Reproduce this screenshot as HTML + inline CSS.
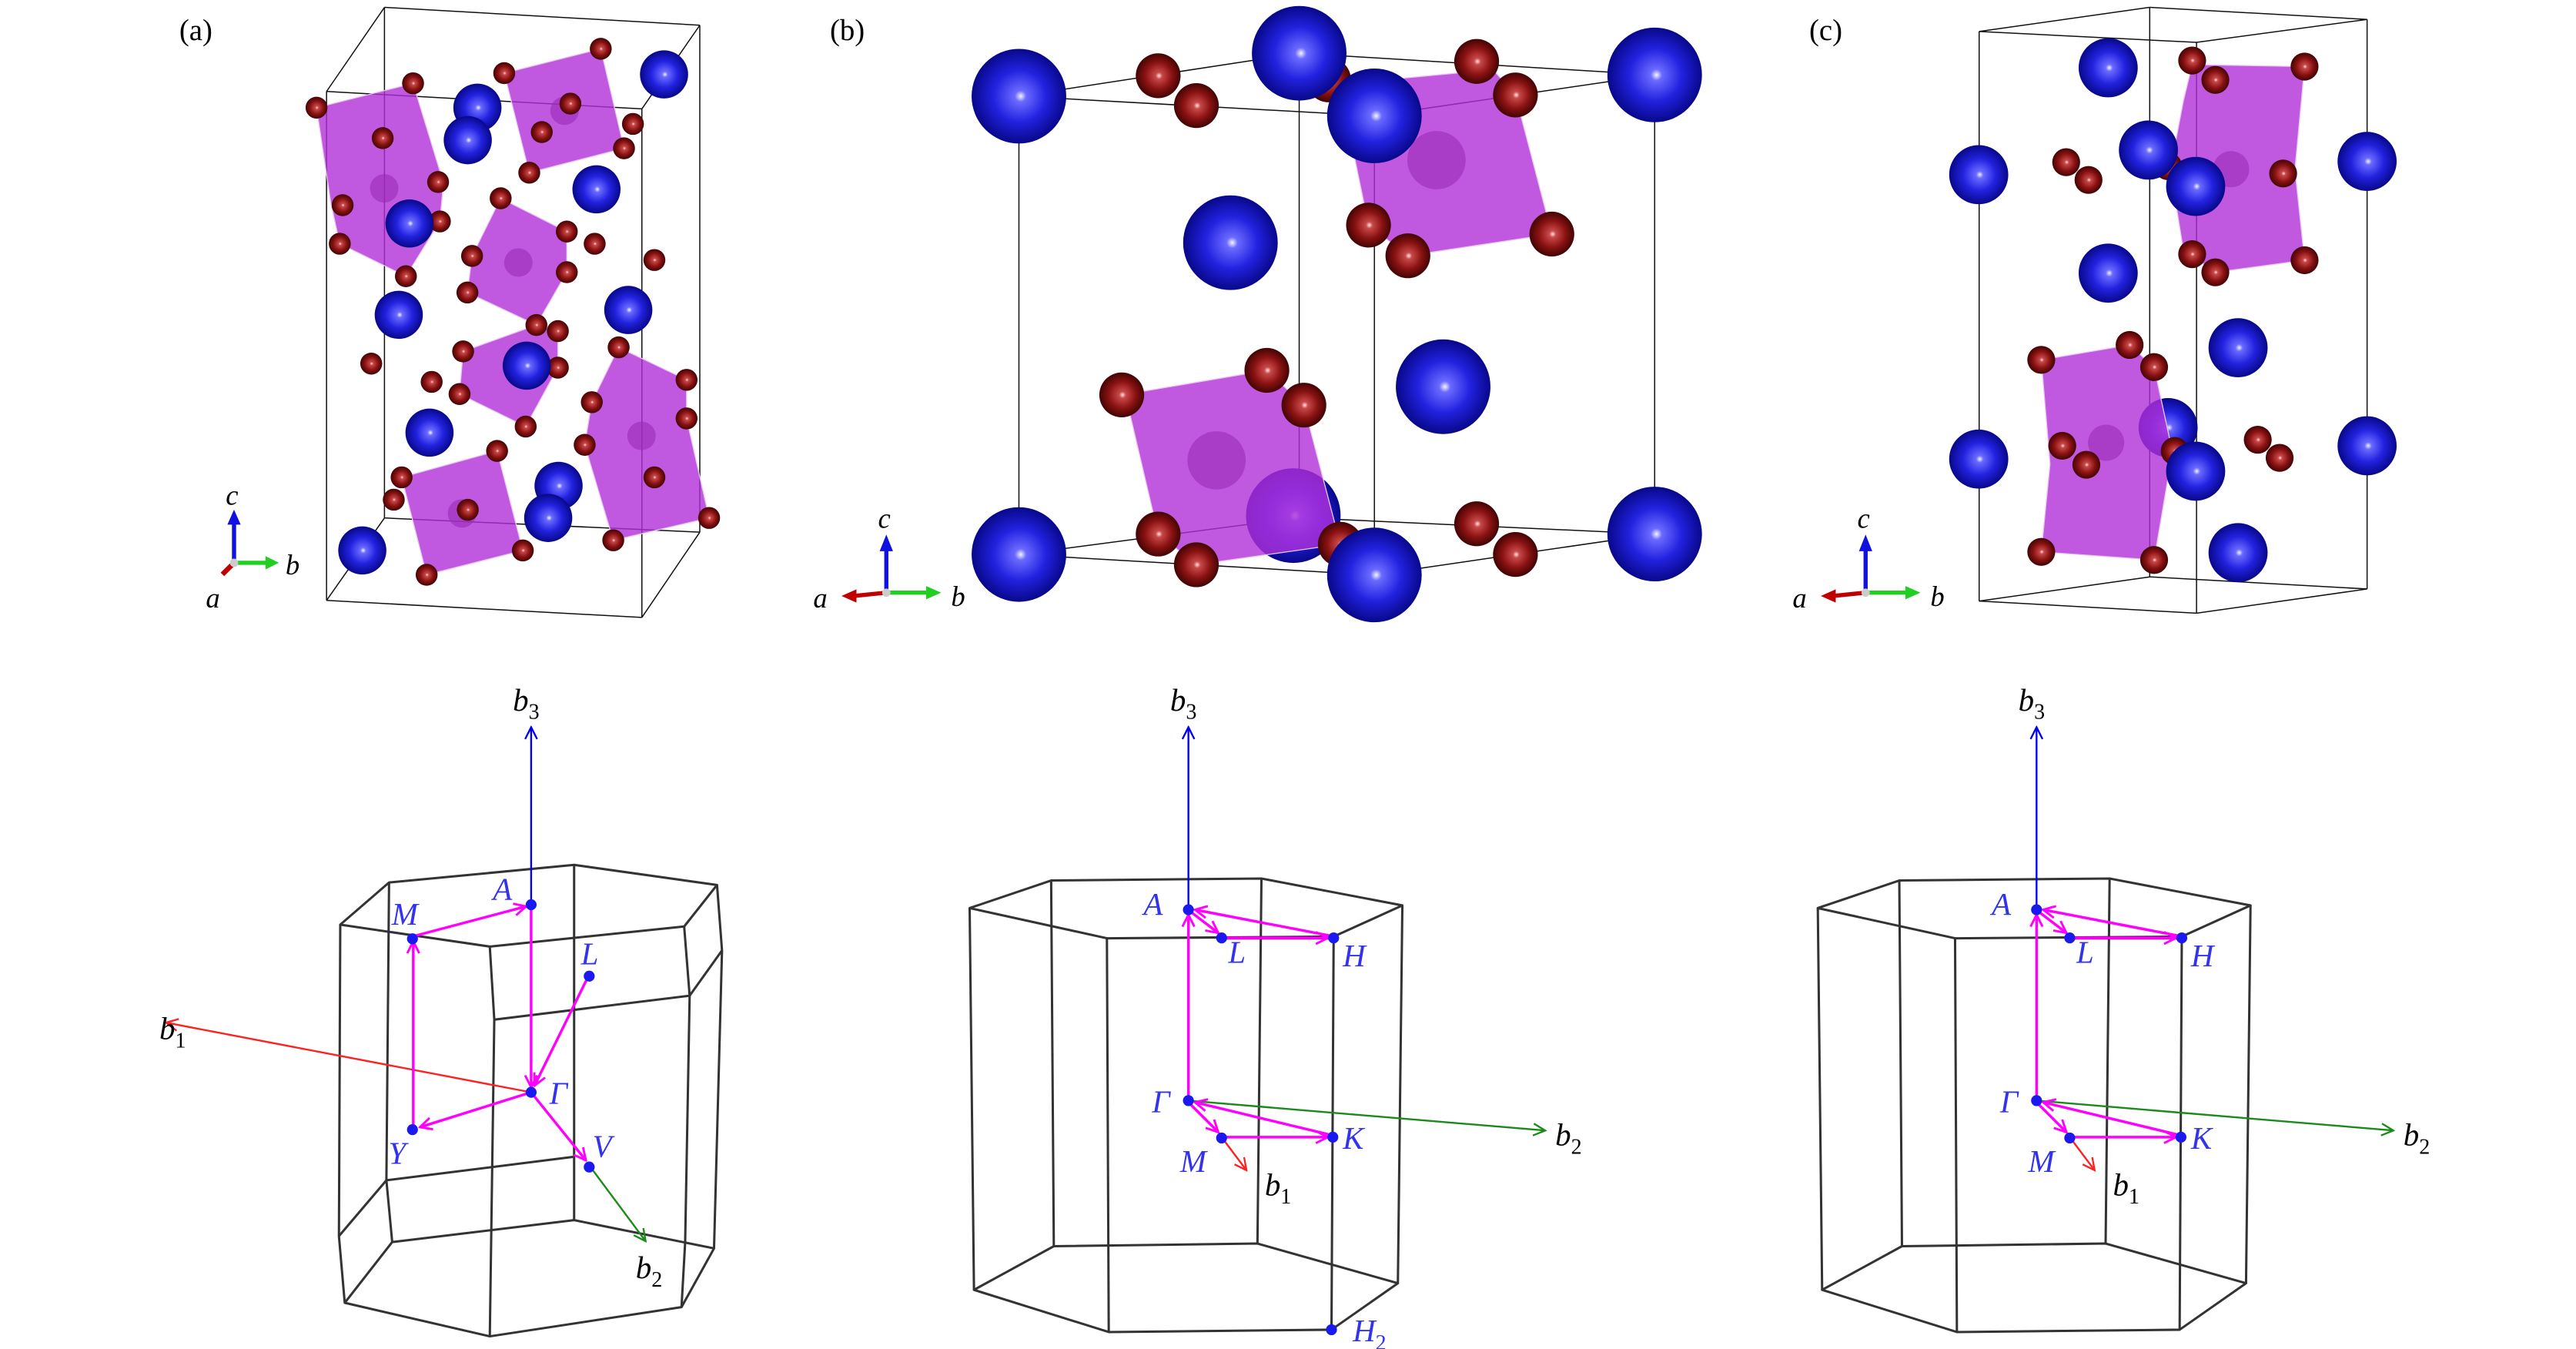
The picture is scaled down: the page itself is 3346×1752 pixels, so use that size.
<!DOCTYPE html>
<html><head><meta charset="utf-8"><style>
html,body{margin:0;padding:0;background:#fff;}
svg{display:block;}
text{font-family:"Liberation Serif",serif;}
</style></head><body>
<svg id="s" width="3346" height="1752" viewBox="0 0 1552 812.6" xmlns="http://www.w3.org/2000/svg">
<defs>
<radialGradient id="gb" cx="0.5" cy="0.5" r="0.5" fx="0.52" fy="0.5">
<stop offset="0" stop-color="#f4f4ff"/><stop offset="0.12" stop-color="#6a6aff"/><stop offset="0.55" stop-color="#2222e0"/><stop offset="1" stop-color="#08088a"/></radialGradient>
<radialGradient id="gr" cx="0.5" cy="0.5" r="0.5" fx="0.52" fy="0.5">
<stop offset="0" stop-color="#ffe0e0"/><stop offset="0.15" stop-color="#c84848"/><stop offset="0.6" stop-color="#8a1212"/><stop offset="1" stop-color="#420404"/></radialGradient>
<marker id="mm" viewBox="0 0 10 10" refX="9" refY="5" markerWidth="9" markerHeight="9" markerUnits="userSpaceOnUse" orient="auto"><path d="M1,1 L9,5 L1,9" fill="none" stroke="#ff00ff" stroke-width="1.5"/></marker>
<marker id="mb" viewBox="0 0 10 10" refX="9" refY="5" markerWidth="9" markerHeight="9" markerUnits="userSpaceOnUse" orient="auto"><path d="M1,1 L9,5 L1,9" fill="none" stroke="#0000ee" stroke-width="1.2"/></marker>
<marker id="mr" viewBox="0 0 10 10" refX="9" refY="5" markerWidth="9" markerHeight="9" markerUnits="userSpaceOnUse" orient="auto"><path d="M1,1 L9,5 L1,9" fill="none" stroke="#ff2020" stroke-width="1.2"/></marker>
<marker id="mg" viewBox="0 0 10 10" refX="9" refY="5" markerWidth="9" markerHeight="9" markerUnits="userSpaceOnUse" orient="auto"><path d="M1,1 L9,5 L1,9" fill="none" stroke="#1a8a1a" stroke-width="1.2"/></marker>
</defs>

<text x="108" y="24" font-size="18">(a)</text>
<text x="500" y="24" font-size="18">(b)</text>
<text x="1090" y="24" font-size="18">(c)</text>

<g id="top"></g>

<!-- axis indicators -->
<g stroke-width="2.5" fill="none">
<line x1="141" y1="339" x2="141" y2="314" stroke="#1010e0"/><polygon points="137,316 145,316 141,307" fill="#1010e0" stroke="none"/>
<line x1="141" y1="339" x2="162" y2="339" stroke="#20d020"/><polygon points="160,335 160,343 168,339" fill="#20d020" stroke="none"/>
<line x1="141" y1="339" x2="134" y2="346" stroke="#c00000" stroke-width="3"/>
<circle cx="141" cy="339" r="2.5" fill="#ccc" stroke="none"/>
</g>
<text x="136" y="304" font-size="17" font-style="italic">c</text>
<text x="172" y="346" font-size="17" font-style="italic">b</text>
<text x="124" y="366" font-size="17" font-style="italic">a</text>

<g id="ax2" stroke-width="2.5" fill="none">
<line x1="534" y1="357" x2="534" y2="330" stroke="#1010e0"/><polygon points="530,332 538,332 534,322" fill="#1010e0" stroke="none"/>
<line x1="534" y1="357" x2="560" y2="357" stroke="#20d020"/><polygon points="558,353 558,361 567,357" fill="#20d020" stroke="none"/>
<line x1="534" y1="357" x2="514" y2="359" stroke="#c00000"/><polygon points="516,355 516,363 507,359" fill="#c00000" stroke="none"/>
<circle cx="534" cy="357" r="2.5" fill="#ccc" stroke="none"/>
</g>
<text x="529" y="318" font-size="17" font-style="italic">c</text>
<text x="573" y="365" font-size="17" font-style="italic">b</text>
<text x="490" y="366" font-size="17" font-style="italic">a</text>
<g transform="translate(590,0)">
<use href="#ax2"/>
<text x="529" y="318" font-size="17" font-style="italic">c</text>
<text x="573" y="365" font-size="17" font-style="italic">b</text>
<text x="490" y="366" font-size="17" font-style="italic">a</text>
</g>

<!-- BZ (a) -->
<g fill="none" stroke="#333" stroke-width="1.4" stroke-linejoin="round">
<polygon points="234.4,531.6 345.9,521 432,533.1 412.2,558.1 295.1,570.2 205,557"/>
<polyline points="432,533.1 435,572.5 430.2,752"/>
<polyline points="435,572.5 415.5,599.8 297.8,614.2"/>
<polyline points="412.2,558.1 415.5,599.8 412.8,748.2 410.6,787.4"/>
<polyline points="295.1,570.2 297.8,614.2 295.1,805"/>
<polyline points="205,557 204.2,744.6 207.7,784.8 295.1,805 410.6,787.4 430.2,752 345.9,735 236.3,748.2 207.7,784.8"/>
<polyline points="234.4,531.6 232.8,711 236.3,748.2"/>
<polyline points="232.8,711 204.2,744.6"/>
<polyline points="232.8,711 345.2,696.9"/>
<polyline points="345.9,521 345.9,735"/>
</g>
<line x1="320" y1="544.7" x2="320" y2="438" stroke="#0000ee" stroke-width="1.1" marker-end="url(#mb)"/>
<line x1="320" y1="658" x2="100" y2="616" stroke="#ff2020" stroke-width="1.1" marker-end="url(#mr)"/>
<line x1="355" y1="702" x2="389" y2="747.7" stroke="#1a8a1a" stroke-width="1.1" marker-end="url(#mg)"/>
<g stroke="#ff00ff" stroke-width="1.6" fill="none">
<line x1="249" y1="564" x2="317" y2="546" marker-end="url(#mm)"/>
<line x1="249" y1="680" x2="249" y2="567" marker-end="url(#mm)"/>
<line x1="320" y1="545" x2="320" y2="655" marker-end="url(#mm)"/>
<line x1="355" y1="587" x2="322" y2="654" marker-end="url(#mm)"/>
<line x1="320" y1="658" x2="253" y2="679" marker-end="url(#mm)"/>
<line x1="320" y1="658" x2="353" y2="699" marker-end="url(#mm)"/>
</g>
<g fill="#1a1aee"><circle cx="320" cy="545" r="3.3"/><circle cx="248.5" cy="565.5" r="3.3"/><circle cx="355" cy="588" r="3.3"/><circle cx="320" cy="658" r="3.3"/><circle cx="248.5" cy="680.5" r="3.3"/><circle cx="355" cy="703" r="3.3"/></g>
<g fill="#3333ee" font-size="19" font-style="italic">
<text x="297" y="542">A</text><text x="236" y="557">M</text><text x="350" y="581">L</text><text x="331" y="665">Γ</text><text x="234" y="701">Y</text><text x="357" y="697">V</text>
</g>
<g font-size="19" font-style="italic">
<text x="309" y="428">b<tspan font-size="13" font-style="normal" dy="5">3</tspan></text>
<text x="96" y="626">b<tspan font-size="13" font-style="normal" dy="5">1</tspan></text>
<text x="383" y="770">b<tspan font-size="13" font-style="normal" dy="5">2</tspan></text>
</g>

<!-- BZ (b) -->
<g id="bzb">
<g fill="none" stroke="#333" stroke-width="1.4" stroke-linejoin="round">
<polygon points="584.2,547 633.3,530.4 760,529.2 844.9,545.4 803.5,564.2 666.9,565.2"/>
<polygon points="586.8,777 634.9,750.7 757.6,749.1 842.2,773 802.2,801 668,802.4"/>
<line x1="584.2" y1="547" x2="586.8" y2="777"/><line x1="633.3" y1="530.4" x2="634.9" y2="750.7"/>
<line x1="760" y1="529.2" x2="757.6" y2="749.1"/><line x1="844.9" y1="545.4" x2="842.2" y2="773"/>
<line x1="803.5" y1="564.2" x2="802.2" y2="801"/><line x1="666.9" y1="565.2" x2="668" y2="802.4"/>
</g>
<line x1="736" y1="565" x2="803" y2="565" stroke="#550044" stroke-width="2"/>
<line x1="716" y1="547" x2="716" y2="438" stroke="#0000ee" stroke-width="1.1" marker-end="url(#mb)"/>
<line x1="736" y1="685" x2="751" y2="705" stroke="#ff2020" stroke-width="1.1" marker-end="url(#mr)"/>
<line x1="716" y1="663" x2="931" y2="681" stroke="#1a8a1a" stroke-width="1.1" marker-end="url(#mg)"/>
<g stroke="#ff00ff" stroke-width="1.6" fill="none">
<line x1="716" y1="663" x2="716" y2="551" marker-end="url(#mm)"/>
<line x1="717" y1="549" x2="734" y2="562" marker-end="url(#mm)"/>
<line x1="736" y1="565" x2="800" y2="565" marker-end="url(#mm)"/>
<line x1="803" y1="564" x2="720" y2="548" marker-end="url(#mm)"/>
<line x1="717" y1="665" x2="734" y2="682" marker-end="url(#mm)"/>
<line x1="736" y1="685" x2="800" y2="685" marker-end="url(#mm)"/>
<line x1="803" y1="684" x2="720" y2="664" marker-end="url(#mm)"/>
</g>
<g fill="#1a1aee"><circle cx="716" cy="548" r="3.3"/><circle cx="736" cy="565" r="3.3"/><circle cx="803.5" cy="565" r="3.3"/><circle cx="716" cy="663" r="3.3"/><circle cx="736" cy="685.5" r="3.3"/><circle cx="803" cy="685" r="3.3"/></g>
<g fill="#3333ee" font-size="19" font-style="italic">
<text x="689" y="551">A</text><text x="740" y="580">L</text><text x="809" y="582">H</text><text x="694" y="670">Γ</text><text x="711" y="706">M</text><text x="809" y="692">K</text>
</g>
<g font-size="19" font-style="italic">
<text x="705" y="428">b<tspan font-size="13" font-style="normal" dy="5">3</tspan></text>
<text x="762" y="720">b<tspan font-size="13" font-style="normal" dy="5">1</tspan></text>
<text x="937" y="690">b<tspan font-size="13" font-style="normal" dy="5">2</tspan></text>
</g>
</g>
<circle cx="802.2" cy="801" r="3.3" fill="#1a1aee"/>
<text x="815" y="808" fill="#3333ee" font-size="19" font-style="italic">H<tspan font-size="13" font-style="normal" dy="5">2</tspan></text>

<use href="#bzb" transform="translate(511,0)"/>
</svg>
<script>
var NS="http://www.w3.org/2000/svg",G=document.getElementById("top");
function el(t,a){var e=document.createElementNS(NS,t);for(var k in a)e.setAttribute(k,a[k]);G.appendChild(e);return e;}
function panel(ax,fx,ay,fy,box,octs,blues,rb,reds,rr,hidden){
 var X=function(x){return ax+x*fx},Y=function(y){return ay+y*fy};
 function ln(p,q,w){el("line",{x1:X(p[0]),y1:Y(p[1]),x2:X(q[0]),y2:Y(q[1]),stroke:"#111","stroke-width":w||0.7});}
 box.forEach(function(s){ln(s[0],s[1]);});
 (hidden||[]).forEach(function(b){el("circle",{cx:X(b[0]),cy:Y(b[1]),r:rb,fill:"url(#gb)"});});
 octs.forEach(function(o){var pts=o.map(function(p){return X(p[0])+","+Y(p[1])}).join(" ");
  el("polygon",{points:pts,fill:"#b030d8","fill-opacity":"0.8",stroke:"#e8c8f0","stroke-width":"0.6"});
  var cx=0,cy=0;o.forEach(function(p){cx+=X(p[0]);cy+=Y(p[1]);});cx/=o.length;cy/=o.length;
  el("circle",{cx:cx,cy:cy,r:rr*1.3,fill:"#9a2cb8","fill-opacity":"0.6"});
 });
 reds.forEach(function(p){el("circle",{cx:X(p[0]),cy:Y(p[1]),r:rr,fill:"url(#gr)"});});
 blues.forEach(function(p){el("circle",{cx:X(p[0]),cy:Y(p[1]),r:rb,fill:"url(#gb)"});});
}
// (a)
var A=[[580,18],[1462,62],[1300,268],[418,225],[580,1275],[1462,1310],[1300,1520],[418,1478]];
function cube(P){return [[P[0],P[1]],[P[1],P[2]],[P[2],P[3]],[P[3],P[0]],[P[4],P[5]],[P[5],P[6]],[P[6],P[7]],[P[7],P[4]],[P[0],P[4]],[P[1],P[5]],[P[2],P[6]],[P[3],P[7]]];}
panel(106.7,0.2154,0,0.2447,cube(A),
[[[390,265],[660,205],[745,450],[735,545],[640,680],[455,600],[430,500]],
 [[915,180],[1185,120],[1250,365],[985,425]],
 [[905,488],[1090,570],[1090,670],[1005,800],[812,720],[825,630]],
 [[1005,800],[1065,815],[1065,905],[975,1050],[790,970],[800,865]],
 [[1235,855],[1425,935],[1425,1030],[1488,1275],[1220,1330],[1140,1095],[1160,990]],
 [[628,1175],[895,1110],[967,1355],[698,1415]]],
[[1362,183],[840,265],[813,345],[1173,466],[650,550],[620,775],[1262,763],[978,900],[706,1065],[1067,1196],[1038,1275],[518,1355]],14.5,
[[390,265],[660,205],[575,340],[730,448],[463,505],[455,600],[735,545],[640,680],[915,180],[1185,120],[1100,255],[1020,325],[1275,305],[1250,365],[985,425],[905,488],[1090,570],[1168,600],[825,630],[1090,670],[812,720],[1335,640],[1005,800],[1065,815],[1235,855],[800,865],[543,895],[712,940],[790,970],[1065,905],[975,1050],[1425,935],[1160,990],[1425,1030],[1140,1095],[1335,1175],[895,1110],[628,1175],[606,1230],[813,1255],[967,1355],[698,1415],[1220,1330],[1488,1275]],6.6);
// (b)
panel(496,0.354,0,0.2465,
[[[333,235],[810,130]],[[333,235],[938,283]],[[810,130],[1415,183]],[[938,283],[1415,183]],
 [[333,235],[333,1355]],[[810,130],[810,1265]],[[938,283],[938,1405]],[[1415,183],[1415,1305]],
 [[333,1355],[938,1405]],[[938,1405],[1415,1305]],[[333,1355],[810,1265]],[[810,1265],[1415,1305]]],
[[[920,200],[1140,170],[1178,232],[1240,572],[995,625],[928,550],[905,390]],
 [[508,965],[755,905],[818,990],[880,1330],[635,1380],[570,1305],[520,1000]]],
[[333,235],[810,130],[1415,183],[938,283],[693,593],[1055,945],[333,1355],[1415,1305],[938,1405]],28.5,
[[570,185],[635,258],[1112,150],[860,195],[1178,232],[928,550],[995,625],[1240,572],[508,965],[755,905],[818,990],[570,1305],[635,1380],[880,1330],[1112,1280],[1178,1355]],13.5,
[[800,1260]]);
// (c)
panel(1077,0.2635,0,0.243,
[[[438,78],[828,18]],[[828,18],[1325,48]],[[1325,48],[935,105]],[[935,105],[438,78]],
 [[438,1490],[828,1430]],[[828,1430],[1325,1460]],[[1325,1460],[935,1520]],[[935,1520],[438,1490]],
 [[438,78],[438,1490]],[[828,18],[828,1430]],[[1325,48],[1325,1460]],[[935,105],[935,1520]]],
[[[925,160],[1182,165],[1160,420],[1182,645],[978,675],[905,620],[875,420],[905,250]],
 [[580,892],[782,855],[838,910],[880,1120],[838,1388],[580,1368],[600,1150]]],
[[733,168],[437,433],[825,372],[933,462],[1325,400],[733,677],[1030,862],[437,1138],[933,1168],[1325,1105],[1030,1370]],17.8,
[[925,150],[1182,165],[978,198],[637,402],[688,446],[870,412],[1133,430],[925,630],[978,675],[1182,645],[782,855],[580,892],[838,910],[628,1105],[683,1152],[885,1118],[1075,1090],[1125,1135],[580,1368],[838,1388]],8.4,
[[870,1060]]);
</script>
</body></html>
